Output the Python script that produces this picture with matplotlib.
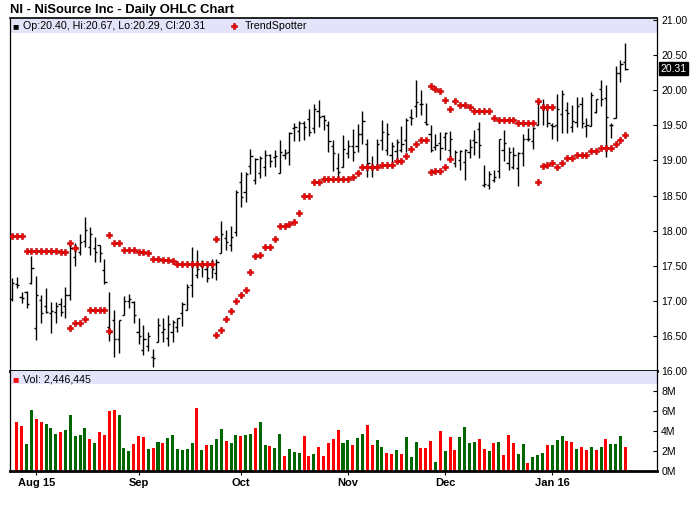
import matplotlib
matplotlib.use('Agg')
import matplotlib.pyplot as plt
from matplotlib.patches import Rectangle
import numpy as np
import pandas as pd

plt.rcParams['font.family'] = ['Liberation Sans', 'DejaVu Sans']

# trading days 27 Jul 2015 - 26 Jan 2016 (NYSE holidays removed)
holidays = ['2015-09-07', '2015-11-26', '2015-12-25', '2016-01-01', '2016-01-18']
dates = pd.bdate_range('2015-07-27', '2016-01-26')
dates = dates[~dates.isin(pd.to_datetime(holidays))]

opens = [17.02, 17.24, 17.05, 17.12, 17.26, 16.61, 17.01, 16.93, 16.82, 16.84,
         16.96, 16.93, 17.09, 17.62, 17.70, 17.85, 17.77, 17.75, 17.80, 17.44,
         16.62, 16.72, 16.45, 16.80, 17.00, 16.99, 16.55, 16.30, 16.35, 16.20,
         16.42, 16.56, 16.47, 16.55, 16.63, 16.83, 16.87, 17.22, 17.37, 17.49,
         17.46, 17.53, 17.39, 17.68, 17.89, 17.80, 17.98, 18.70, 18.55, 18.92,
         18.72, 18.82, 18.91, 19.08, 19.05, 18.82, 19.08, 19.12, 19.46, 19.42,
         19.53, 19.59, 19.46, 19.70, 19.64, 19.51, 19.20, 18.89, 18.91, 19.10,
         19.21, 19.21, 19.37, 19.24, 18.91, 18.91, 19.29, 19.15, 19.08, 19.14,
         19.15, 19.29, 19.62, 19.77, 19.81, 19.55, 19.38, 19.19, 19.25, 19.34,
         19.15, 18.96, 19.00, 18.98, 19.12, 19.29, 19.45, 18.65, 18.65, 18.72,
         18.85, 19.15, 18.96, 18.90, 18.89, 19.11, 19.31, 19.28, 19.50, 19.76,
         19.76, 19.51, 19.51, 19.66, 19.72, 19.48, 19.55, 19.81, 19.49, 19.49,
         19.69, 20.02, 19.89, 19.50, 19.60, 20.24, 20.40]
highs = [17.33, 17.34, 17.12, 17.14, 17.64, 17.36, 17.09, 17.18, 16.99, 16.99,
         17.04, 17.20, 17.81, 17.82, 17.95, 18.19, 18.05, 17.91, 17.80, 17.60,
         17.13, 16.87, 16.73, 17.07, 17.10, 17.00, 16.75, 16.65, 16.56, 16.32,
         16.75, 16.75, 16.80, 16.72, 16.76, 16.99, 17.24, 17.77, 17.72, 17.58,
         17.56, 17.59, 17.59, 18.14, 18.01, 18.07, 18.58, 18.83, 18.83, 19.16,
         19.04, 19.07, 19.15, 19.09, 19.15, 19.29, 19.17, 19.41, 19.53, 19.56,
         19.56, 19.74, 19.80, 19.86, 19.65, 19.56, 19.29, 19.10, 19.36, 19.29,
         19.45, 19.52, 19.70, 19.31, 19.06, 19.30, 19.58, 19.54, 19.27, 19.31,
         19.49, 19.60, 19.74, 20.14, 20.01, 19.82, 19.50, 19.38, 19.41, 19.41,
         19.42, 19.15, 19.15, 19.16, 19.31, 19.43, 19.55, 18.93, 18.85, 18.86,
         19.31, 19.43, 19.19, 19.19, 19.12, 19.38, 19.46, 19.48, 19.85, 19.88,
         19.81, 19.53, 19.94, 20.00, 19.84, 19.79, 19.91, 19.91, 19.60, 19.98,
         19.88, 20.14, 20.08, 19.53, 20.35, 20.43, 20.67]
lows = [17.00, 17.18, 16.97, 16.90, 17.24, 16.44, 16.69, 16.82, 16.54, 16.69,
        16.78, 16.76, 17.01, 17.49, 17.65, 17.76, 17.66, 17.55, 17.55, 17.24,
        16.43, 16.20, 16.25, 16.80, 16.90, 16.68, 16.39, 16.23, 16.28, 16.05,
        16.42, 16.42, 16.36, 16.42, 16.56, 16.64, 16.87, 17.06, 17.32, 17.34,
        17.27, 17.32, 17.29, 17.68, 17.72, 17.71, 17.92, 18.33, 18.41, 18.80,
        18.66, 18.75, 18.78, 18.91, 18.91, 18.82, 19.02, 18.93, 19.28, 19.28,
        19.29, 19.35, 19.39, 19.48, 19.43, 19.12, 18.85, 18.74, 18.91, 19.04,
        18.99, 19.12, 19.24, 18.77, 18.76, 18.91, 19.15, 19.08, 18.98, 19.03,
        19.12, 19.12, 19.50, 19.62, 19.65, 19.50, 19.12, 19.15, 19.00, 19.15,
        19.04, 18.90, 18.86, 18.72, 19.04, 19.08, 19.03, 18.62, 18.60, 18.69,
        18.75, 18.99, 18.86, 18.88, 18.64, 18.92, 19.28, 19.17, 19.50, 19.51,
        19.48, 19.31, 19.28, 19.39, 19.39, 19.41, 19.48, 19.46, 19.34, 19.49,
        19.68, 19.78, 19.05, 19.32, 19.60, 20.12, 20.29]
closes = [17.26, 17.23, 17.04, 16.96, 17.47, 17.08, 16.82, 16.84, 16.86, 16.92,
          16.84, 17.09, 17.75, 17.77, 17.84, 18.01, 17.95, 17.69, 17.68, 17.27,
          16.55, 16.45, 16.73, 17.00, 17.03, 16.80, 16.50, 16.45, 16.50, 16.18,
          16.65, 16.60, 16.67, 16.70, 16.75, 16.96, 17.20, 17.51, 17.45, 17.51,
          17.32, 17.46, 17.56, 17.95, 17.84, 17.91, 18.55, 18.48, 18.81, 19.06,
          19.02, 19.04, 19.08, 18.99, 19.07, 19.12, 19.10, 19.39, 19.47, 19.54,
          19.48, 19.40, 19.74, 19.62, 19.58, 19.28, 19.10, 18.83, 19.16, 19.20,
          19.12, 19.38, 19.56, 18.96, 18.90, 19.24, 19.41, 19.38, 19.20, 19.27,
          19.24, 19.58, 19.60, 19.84, 19.80, 19.52, 19.15, 19.22, 19.18, 19.39,
          19.31, 19.12, 19.14, 19.15, 19.19, 19.27, 19.22, 18.67, 18.80, 18.76,
          19.31, 19.25, 19.12, 19.08, 19.11, 19.31, 19.30, 19.46, 19.84, 19.75,
          19.54, 19.49, 19.73, 19.94, 19.67, 19.56, 19.78, 19.53, 19.51, 19.93,
          19.87, 19.88, 19.62, 19.51, 20.24, 20.38, 20.31]

# TrendSpotter dots (None = no dot on that day)
ts_upper = ([17.92] * 3 + [17.71] * 7 + [17.69] * 2 + [17.82, 17.75] + [None] * 6
            + [17.94] + [17.82] * 2 + [17.73] * 3 + [17.69] * 2 + [17.68]
            + [17.59] * 2 + [17.58] * 2 + [17.57] + [17.52] * 8 + [17.88]
            + [None] * 43
            + [20.06, 20.02, 19.99, 19.86, 19.74, 19.85, 19.79, 19.79, 19.76]
            + [19.70] * 4 + [19.61] + [19.58] * 4 + [19.54] * 4 + [19.85]
            + [19.76] * 3 + [None] * 15)
ts_lower = ([None] * 12 + [16.61, 16.69, 16.69, 16.74] + [16.87] * 4 + [16.57]
            + [None] * 21
            + [16.51, 16.58, 16.74, 16.86, 17.00, 17.08, 17.15, 17.41, 17.64, 17.65,
               17.76, 17.76, 17.88, 18.07, 18.07, 18.10, 18.13, 18.25, 18.50, 18.50,
               18.70, 18.70] + [18.74] * 6 + [18.77, 18.82] + [18.91] * 4
            + [18.94] * 3 + [18.99] * 2 + [19.07, 19.16, 19.24] + [19.29] * 2
            + [18.83, 18.85, 18.85, 18.91, 19.02] + [None] * 17
            + [18.69, 18.92, 18.94, 18.97, 18.91, 18.96, 19.04, 19.04, 19.08, 19.08,
               19.08, 19.14, 19.14, 19.18, 19.18, 19.18, 19.24, 19.29, 19.36])

# volume in millions, from the 2nd day on (first day has no bar)
volumes = [4.94, 4.53, 2.70, 6.10, 5.20, 4.94, 4.69, 4.30, 3.70, 3.90,
           4.10, 5.60, 3.50, 3.60, 4.30, 3.20, 2.80, 3.90, 3.60, 6.00,
           6.10, 5.60, 2.30, 2.00, 2.70, 3.50, 3.40, 2.20, 2.30, 2.90,
           2.80, 3.30, 3.60, 2.20, 2.10, 2.20, 2.80, 6.30, 2.10, 2.60,
           2.60, 3.20, 4.20, 3.00, 2.80, 3.60, 3.50, 3.60, 3.70, 4.30,
           4.90, 2.60, 2.50, 2.30, 3.70, 1.50, 2.20, 1.90, 1.80, 3.50,
           1.50, 1.70, 2.40, 1.50, 2.80, 3.20, 4.10, 2.80, 3.10, 2.60,
           3.30, 3.70, 4.60, 2.60, 3.10, 2.40, 1.80, 1.70, 2.10, 1.70,
           3.40, 1.40, 2.90, 2.30, 2.30, 3.00, 0.90, 4.00, 2.00, 3.40,
           2.10, 3.40, 4.40, 2.80, 2.90, 3.20, 2.20, 2.00, 2.80, 2.90,
           1.60, 3.60, 2.80, 1.70, 2.70, 0.80, 1.40, 1.60, 1.80, 2.60,
           2.60, 3.10, 3.50, 3.00, 2.90, 2.20, 2.40, 2.10, 2.40, 2.10,
           2.40, 3.20, 2.70, 2.70, 3.50, 2.446445]
vol_dir = ('RRGGRRGGGR' 'GGGGGRGRRR' 'RGGGRRRGRG' 'RGGGGGGRGR' 'GGGRGGRGGR'
           'GGRGGRGGGR' 'RGRRRRRGG' 'RGGRRGGRRG' 'RGGGRRRGRG' 'RRGGGGRRGR'
           'GRRRGGRGGG' 'RGGGRRGRRG' 'RGRGGGR')

month_labels = ['Aug 15', 'Sep', 'Oct', 'Nov', 'Dec', 'Jan 16']

W, H = 700, 512
fig = plt.figure(figsize=(W / 100, H / 100), dpi=100)


def px_axes(left, top, right, bottom):
    return fig.add_axes([left / W, 1 - bottom / H, (right - left) / W, (bottom - top) / H])


ax = px_axes(10, 18, 657, 371)
axv = px_axes(10, 371, 657, 471)

n = len(dates)
x = np.arange(n)
lavender = '#e3e3fa'
dot = dict(ls='none', marker='P', ms=3.7, mfc='#f00000', mec='#b00000', mew=0.4)

# ---- price panel
ax.vlines(x, lows, highs, color='black', lw=1.0)
ax.hlines(opens, x - 0.45, x, color='black', lw=1.0)
ax.hlines(closes, x, x + 0.45, color='black', lw=1.0)
for ts in (ts_upper, ts_lower):
    ax.plot(x, np.array(ts, dtype=float), zorder=3, **dot)

ax.set_xlim(-0.4, 132.5)
ax.set_ylim(16.0, 21.03)
ax.add_patch(Rectangle((0, 1 - 15 / 353), 1, 15 / 353, transform=ax.transAxes,
                       color=lavender, zorder=0, lw=0))
ax.yaxis.tick_right()
ax.set_yticks(np.arange(16.0, 21.01, 0.5))
ax.set_yticklabels(['%.2f' % v for v in np.arange(16.0, 21.01, 0.5)])
ax.tick_params(axis='y', direction='in', length=3, width=0.8, pad=3, labelsize=7.5)
ax.set_xticks([])
for s in ax.spines.values():
    s.set_color('black')
    s.set_linewidth(0.9)
ax.spines['bottom'].set_linewidth(2)
ax.spines['top'].set_linewidth(1.2)

# last price box
ax.text(1.005, closes[-1], '%.2f' % closes[-1], transform=ax.get_yaxis_transform(),
        ha='left', va='center', fontsize=7.5, color='white',
        bbox=dict(boxstyle='square,pad=0.15', fc='black', ec='black'))

# ---- volume panel
vx = x[1:]
vcol = ['#ff0000' if d == 'R' else '#006600' for d in vol_dir]
axv.bar(vx, volumes, width=0.62, color=vcol, lw=0)
axv.set_xlim(-0.4, 132.5)
axv.set_ylim(0, 10)
axv.add_patch(Rectangle((0, 0.87), 1, 0.13, transform=axv.transAxes,
                        color=lavender, zorder=0, lw=0))
axv.yaxis.tick_right()
axv.set_yticks([0, 2, 4, 6, 8])
axv.set_yticklabels(['%dM' % v for v in [0, 2, 4, 6, 8]])
axv.tick_params(axis='y', direction='in', length=3, width=0.8, pad=3, labelsize=7.5)

month_start = [i for i in range(1, n) if dates[i].month != dates[i - 1].month]
axv.set_xticks(month_start)
axv.set_xticklabels(month_labels, fontsize=8, fontweight='bold')
axv.tick_params(axis='x', direction='out', length=3, width=0.8, pad=2)
for s in axv.spines.values():
    s.set_color('black')
    s.set_linewidth(0.9)
axv.spines['top'].set_visible(False)
axv.spines['bottom'].set_linewidth(2)

# ---- header texts
fig.text(10 / W, 1 - 10 / H, 'NI - NiSource Inc - Daily OHLC Chart',
         fontsize=9.4, fontweight='bold', va='center', ha='left')
fig.text(12 / W, 1 - 26 / H, '\u25a0', fontsize=7.5, va='center', ha='left')
fig.text(23 / W, 1 - 26 / H,
         'Op:%.2f, Hi:%.2f, Lo:%.2f, Cl:%.2f' % (opens[-1], highs[-1], lows[-1], closes[-1]),
         fontsize=7.7, va='center', ha='left')
ax.plot([(234 - 10) / 647], [1 - 8 / 353], transform=ax.transAxes, clip_on=False, **dot)
fig.text(245 / W, 1 - 26 / H, 'TrendSpotter', fontsize=7.7, va='center', ha='left')
fig.text(12 / W, 1 - 379 / H, '\u25a0', fontsize=7.5, va='center', ha='left', color='#ff0000')
fig.text(23 / W, 1 - 379 / H, 'Vol: {:,.0f}'.format(volumes[-1] * 1e6),
         fontsize=7.7, va='center', ha='left')

fig.savefig('out.png', dpi=100, facecolor='white')
